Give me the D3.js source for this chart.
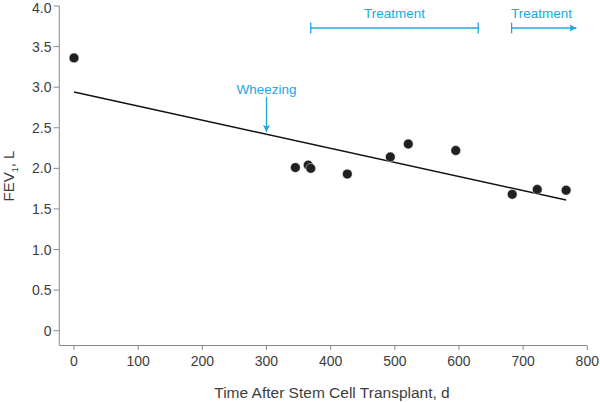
<!DOCTYPE html>
<html><head><meta charset="utf-8">
<script src="https://cdn.jsdelivr.net/npm/d3@7"></script>
<style>
body{margin:0;background:#fff;}
text{font-family:"Liberation Sans",Arial,sans-serif;}
</style></head>
<body><svg id="c" width="600" height="402"></svg>
<script>
const days = [0, 345, 365, 369, 426, 493, 521, 595, 683, 722, 767];
const fev1 = [3.36, 2.01, 2.04, 2.00, 1.93, 2.14, 2.30, 2.22, 1.68, 1.74, 1.73];
const fitDays = [0, 767];
const fitValues = [2.94, 1.61];
const xTicks = [0, 100, 200, 300, 400, 500, 600, 700, 800];
const yTicks = [0, 0.5, 1.0, 1.5, 2.0, 2.5, 3.0, 3.5, 4.0];
const wheezingDay = [300];
const treatment1 = [369, 630];
const treatment2 = [682, 783];

const svg = d3.select("#c");
const x = d3.scaleLinear().domain([0, 800]).range([74, 587.3]);
const y = d3.scaleLinear().domain([0, 4]).range([330.7, 6]);
const blue = "#1fa6de";
const axisCol = "#8a8a8a";
const textCol = "#3d3d3d";

// axes lines
svg.append("line").attr("x1", 59.3).attr("x2", 59.3).attr("y1", y(4)).attr("y2", 345.5)
  .attr("stroke", axisCol).attr("stroke-width", 1);
svg.append("line").attr("x1", 59.3).attr("x2", x(800)).attr("y1", 345.5).attr("y2", 345.5)
  .attr("stroke", axisCol).attr("stroke-width", 1);

// y ticks
const yg = svg.append("g");
yTicks.forEach(t => {
  yg.append("line").attr("x1", 53.5).attr("x2", 59.3).attr("y1", y(t)).attr("y2", y(t)).attr("stroke", axisCol);
  yg.append("text").attr("x", 51.5).attr("y", Math.max(y(t), 7.5)).attr("dy", "0.36em").attr("text-anchor", "end")
    .attr("font-size", 14).attr("fill", textCol).text(t === 0 ? "0" : d3.format(".1f")(t));
});
// x ticks
const xg = svg.append("g");
xTicks.forEach(t => {
  xg.append("line").attr("x1", x(t)).attr("x2", x(t)).attr("y1", 345.5).attr("y2", 350).attr("stroke", axisCol);
  xg.append("text").attr("x", x(t)).attr("y", 365.5).attr("text-anchor", "middle")
    .attr("font-size", 14).attr("fill", textCol).text(t);
});

// axis titles
svg.append("text").attr("x", 332).attr("y", 398).attr("text-anchor", "middle")
  .attr("font-size", 15.5).attr("fill", textCol).text("Time After Stem Cell Transplant, d");
const yl = svg.append("text").attr("transform", "translate(13.5,176) rotate(-90)")
  .attr("text-anchor", "middle").attr("font-size", 15).attr("fill", textCol);
yl.append("tspan").text("FEV");
yl.append("tspan").attr("font-size", 9).attr("dy", 4).text("1");
yl.append("tspan").attr("dy", -4).text(", L");

// regression line
svg.append("line").attr("x1", x(fitDays[0])).attr("y1", y(fitValues[0]))
  .attr("x2", x(fitDays[1])).attr("y2", y(fitValues[1]))
  .attr("stroke", "#111").attr("stroke-width", 1.4);

// points
svg.append("g").selectAll("circle").data(days.map((d, i) => [d, fev1[i]])).join("circle")
  .attr("cx", d => x(d[0])).attr("cy", d => y(d[1])).attr("r", 4.9)
  .attr("fill", "#231f20").attr("stroke", "#fff").attr("stroke-width", 0.5);

// annotations
const defs = svg.append("defs");
defs.append("marker").attr("id", "ah").attr("viewBox", "0 0 10 10").attr("refX", 10).attr("refY", 5)
  .attr("markerWidth", 10).attr("markerHeight", 7).attr("markerUnits", "userSpaceOnUse").attr("orient", "auto")
  .append("path").attr("d", "M0,0 L10,5 L0,10 L2,5 Z").attr("fill", blue);

const wx = x(wheezingDay[0]);
svg.append("text").attr("x", wx).attr("y", 94).attr("text-anchor", "middle").attr("font-size", 13.5)
  .attr("fill", blue).text("Wheezing");
svg.append("line").attr("x1", wx).attr("x2", wx).attr("y1", 97).attr("y2", 132)
  .attr("stroke", blue).attr("stroke-width", 1.3).attr("marker-end", "url(#ah)");

const ty = 28;
svg.append("line").attr("x1", x(treatment1[0])).attr("x2", x(treatment1[1])).attr("y1", ty).attr("y2", ty)
  .attr("stroke", blue).attr("stroke-width", 1.3);
[treatment1[0], treatment1[1], treatment2[0]].forEach(d => {
  svg.append("line").attr("x1", x(d)).attr("x2", x(d)).attr("y1", ty - 5.5).attr("y2", ty + 5.5)
    .attr("stroke", blue).attr("stroke-width", 1.3);
});
svg.append("text").attr("x", x((treatment1[0] + treatment1[1]) / 2)).attr("y", 18).attr("text-anchor", "middle")
  .attr("font-size", 13.5).attr("fill", blue).text("Treatment");
svg.append("line").attr("x1", x(treatment2[0])).attr("x2", x(treatment2[1])).attr("y1", ty).attr("y2", ty)
  .attr("stroke", blue).attr("stroke-width", 1.3).attr("marker-end", "url(#ah)");
svg.append("text").attr("x", x(treatment2[0]) + 30).attr("y", 18).attr("text-anchor", "middle")
  .attr("font-size", 13.5).attr("fill", blue).text("Treatment");
</script></body></html>
